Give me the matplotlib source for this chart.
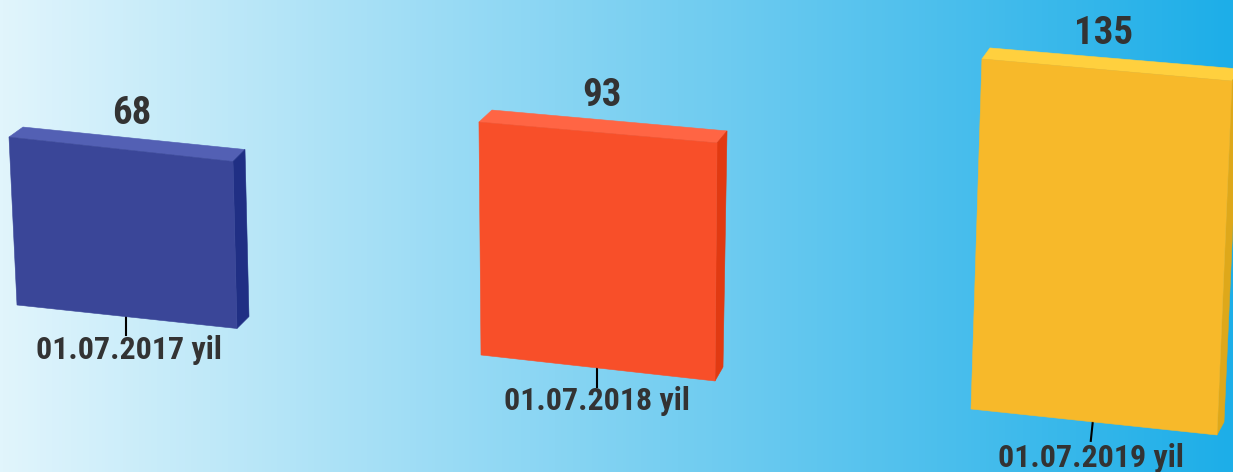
import matplotlib
matplotlib.use("Agg")
import matplotlib.pyplot as plt
import numpy as np
from matplotlib.patches import Polygon

# Chart data
values = [68, 93, 135]
date_labels = ["01.07.2017 yil", "01.07.2018 yil", "01.07.2019 yil"]

# Face colours for each bar
front_colors = ["#3a4698", "#f84f29", "#f7b92a"]
top_colors = ["#5360b4", "#ff6544", "#ffd03e"]
side_colors = ["#202f84", "#e13a12", "#dea81a"]

# Perspective layout, in pixels: bottom corners of the front face and how far
# one unit of value moves the left and right edges
base_left = [(17, 305), (481, 355), (971, 409)]
base_right = [(237, 328.5), (715, 381), (1217, 435)]
up_left = [(-0.118, -2.47), (-0.022, -2.505), (0.081, -2.593)]
up_right = [(-0.059, -2.456), (0.022, -2.56), (0.111, -2.622)]
depth_top_left = [(14, -10), (13, -12), (8, -11)]
depth_top_right = [(12, -12), (10, -12), (8, -12)]
depth_bottom = [(12, -12), (8, -14), (7, -13)]
tick_vec = [(0, 18), (0, 19), (-2, 19)]
value_pos = [(132, 113), (602, 96), (1104, 34)]
label_pos = [(129, 350), (597, 401), (1091, 458)]

fig = plt.figure(figsize=(12.33, 4.72), dpi=100)
ax = fig.add_axes([0, 0, 1, 1])
ax.set_xlim(0, 1233)
ax.set_ylim(472, 0)
ax.axis("off")

# Background gradient
c_left = np.array([225, 245, 252]) / 255
c_right = np.array([29, 174, 232]) / 255
t = np.linspace(0, 1, 400)[None, :, None]
ax.imshow(c_left + (c_right - c_left) * t, extent=[0, 1233, 472, 0], aspect="auto", zorder=0)


def face(points, color):
    ax.add_patch(Polygon(points, closed=True, facecolor=color, edgecolor=color, linewidth=0.4, zorder=3))


for i, value in enumerate(values):
    bl = np.array(base_left[i], dtype=float)
    br = np.array(base_right[i], dtype=float)
    tl = bl + value * np.array(up_left[i])
    tr = br + value * np.array(up_right[i])

    # Tick under the bar
    start = bl + 0.495 * (br - bl)
    end = start + np.array(tick_vec[i])
    ax.plot([start[0], end[0]], [start[1], end[1]], color="black", lw=1.5, zorder=2)

    face([tl, tr, tr + depth_top_right[i], tl + depth_top_left[i]], top_colors[i])
    face([tr, br, br + depth_bottom[i], tr + depth_top_right[i]], side_colors[i])
    face([bl, br, tr, tl], front_colors[i])

    ax.text(value_pos[i][0], value_pos[i][1], str(value), ha="center", va="center",
            family="Roboto Condensed", fontweight="bold", fontsize=28, color="#333333", zorder=4)
    ax.text(label_pos[i][0], label_pos[i][1], date_labels[i], ha="center", va="center",
            family="Roboto Condensed", fontweight="bold", fontsize=23, color="#333333", zorder=4)

fig.savefig("out.png", dpi=100)
